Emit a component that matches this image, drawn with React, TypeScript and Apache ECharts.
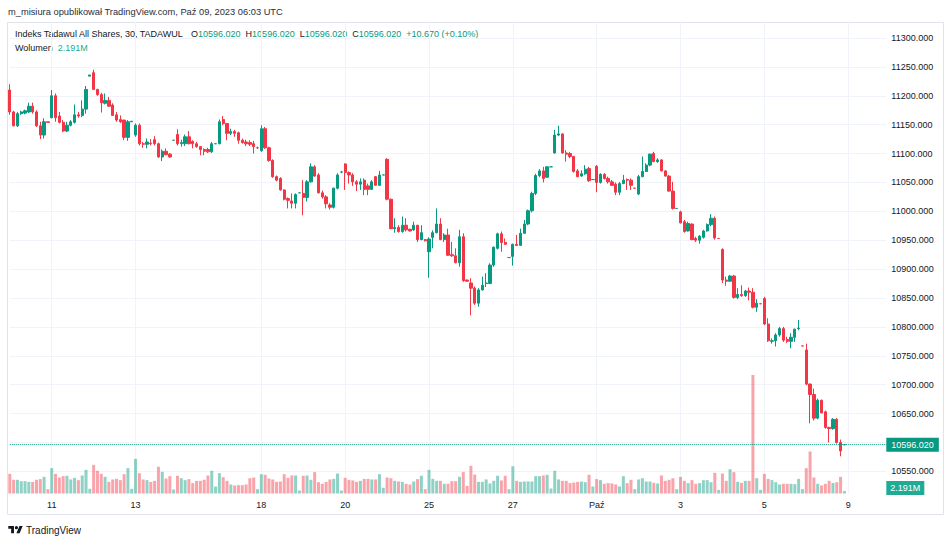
import React, { useEffect, useRef } from 'react';
import * as echarts from 'echarts';

// trading sessions on the chart, 11 half-hour bars per session (last one is the closing auction)
const days = ['10', '11', '12', '13', '14', '17', '18', '19', '20', '21', '25', '26', '27', '28', 'Paź', '2', '3', '4', '5', '8', '9'];
const sessionTimes = ['10:00', '10:30', '11:00', '11:30', '12:00', '12:30', '13:00', '13:30', '14:00', '14:30', '15:00'];
const tickDays = ['11', '13', '18', '20', '25', '27', 'Paź', '3', '5', '9'];

// [open, high, low, close]
const candles: number[][] = [
  // Sep 10
  [11210, 11220, 11167, 11172], [11172, 11174, 11147, 11148], [11148, 11172, 11146, 11169], [11169, 11174, 11167, 11172],
  [11170, 11176, 11168, 11174], [11172, 11188, 11170, 11182], [11182, 11188, 11169, 11172], [11172, 11175, 11146, 11148],
  [11148, 11155, 11125, 11132], [11132, 11161, 11126, 11155], [11155, 11155, 11154, 11154],
  // Sep 11
  [11162, 11210, 11161, 11200], [11200, 11204, 11155, 11162], [11165, 11172, 11152, 11154], [11154, 11158, 11137, 11139],
  [11139, 11155, 11137, 11149], [11149, 11158, 11147, 11155], [11154, 11185, 11152, 11167], [11167, 11172, 11162, 11165],
  [11166, 11192, 11163, 11177], [11177, 11217, 11169, 11211], [11234, 11236, 11234, 11236],
  // Sep 12
  [11240, 11245, 11210, 11211], [11211, 11212, 11200, 11202], [11202, 11205, 11171, 11188], [11187, 11204, 11185, 11192],
  [11192, 11198, 11181, 11182], [11184, 11187, 11165, 11166], [11167, 11172, 11155, 11158], [11159, 11166, 11153, 11155],
  [11158, 11158, 11123, 11128], [11128, 11158, 11122, 11155], [11155, 11156, 11155, 11156],
  // Sep 13
  [11132, 11152, 11129, 11149], [11149, 11152, 11114, 11117], [11117, 11120, 11110, 11116], [11116, 11126, 11109, 11120],
  [11118, 11125, 11114, 11117], [11124, 11130, 11114, 11117], [11117, 11119, 11093, 11094], [11094, 11107, 11087, 11104],
  [11104, 11109, 11097, 11098], [11099, 11101, 11093, 11094], [11123, 11123, 11123, 11123],
  // Sep 14
  [11133, 11142, 11114, 11117], [11117, 11124, 11112, 11119], [11117, 11133, 11113, 11129], [11129, 11139, 11116, 11117],
  [11121, 11123, 11109, 11117], [11117, 11120, 11110, 11112], [11112, 11113, 11097, 11107], [11107, 11109, 11097, 11104],
  [11107, 11110, 11101, 11103], [11103, 11120, 11101, 11117], [11117, 11117, 11117, 11117],
  // Sep 17
  [11117, 11159, 11116, 11155], [11159, 11165, 11149, 11152], [11152, 11153, 11123, 11135], [11135, 11143, 11132, 11138],
  [11138, 11141, 11129, 11135], [11136, 11138, 11117, 11123], [11123, 11126, 11117, 11119], [11120, 11124, 11113, 11117],
  [11119, 11123, 11113, 11116], [11117, 11122, 11100, 11112], [11110, 11112, 11108, 11110],
  // Sep 18
  [11105, 11149, 11103, 11143], [11143, 11146, 11108, 11110], [11110, 11112, 11086, 11088], [11088, 11090, 11058, 11060],
  [11060, 11062, 11052, 11054], [11057, 11059, 11036, 11037], [11037, 11038, 11019, 11021], [11022, 11024, 11005, 11019],
  [11018, 11031, 11005, 11014], [11014, 11031, 11005, 11029], [11032, 11032, 11032, 11032],
  // Sep 19
  [11031, 11054, 10993, 11024], [11024, 11054, 11017, 11051], [11051, 11083, 11050, 11077], [11077, 11080, 11060, 11061],
  [11063, 11066, 11031, 11032], [11032, 11036, 11022, 11025], [11025, 11028, 11005, 11013], [11011, 11014, 11003, 11007],
  [11007, 11041, 11005, 11040], [11040, 11066, 11038, 11063], [11068, 11070, 11066, 11068],
  // Sep 20
  [11082, 11083, 11037, 11067], [11067, 11069, 11048, 11063], [11063, 11066, 11044, 11051], [11051, 11054, 11035, 11047],
  [11047, 11057, 11037, 11051], [11054, 11057, 11028, 11038], [11044, 11048, 11028, 11038], [11038, 11054, 11037, 11051],
  [11060, 11061, 11044, 11045], [11045, 11070, 11044, 11063], [11063, 11063, 11063, 11063],
  // Sep 21
  [11090, 11092, 11019, 11021], [11021, 11022, 10969, 10970], [10970, 10988, 10963, 10972], [10972, 10976, 10963, 10965],
  [10965, 10991, 10963, 10976], [10976, 10988, 10965, 10968], [10969, 10970, 10965, 10966], [10968, 10982, 10966, 10976],
  [10976, 10976, 10947, 10951], [10951, 10976, 10950, 10963], [10951, 10952, 10948, 10949],
  // Sep 25
  [10930, 10955, 10885, 10952], [10955, 10967, 10936, 10963], [10963, 11005, 10962, 10978], [10978, 10988, 10950, 10951],
  [10951, 10962, 10947, 10959], [10959, 10970, 10923, 10924], [10925, 10947, 10921, 10923], [10923, 10936, 10910, 10911],
  [10911, 10968, 10904, 10956], [10956, 10962, 10878, 10880], [10881, 10882, 10879, 10879],
  // Sep 26
  [10876, 10884, 10820, 10867], [10867, 10870, 10838, 10841], [10841, 10867, 10835, 10864], [10864, 10887, 10863, 10872],
  [10875, 10893, 10869, 10876], [10875, 10910, 10874, 10907], [10907, 10939, 10904, 10938], [10936, 10963, 10934, 10961],
  [10961, 10965, 10930, 10946], [10946, 10953, 10942, 10943], [10920, 10920, 10920, 10920],
  // Sep 27
  [10922, 10944, 10906, 10943], [10943, 10959, 10940, 10941], [10941, 10970, 10940, 10962], [10962, 10985, 10961, 10978],
  [10978, 11003, 10976, 11001], [11001, 11034, 10998, 11031], [11031, 11065, 11028, 11062], [11062, 11073, 11059, 11070],
  [11070, 11077, 11050, 11057], [11059, 11078, 11058, 11077], [11077, 11077, 11077, 11077],
  // Sep 28
  [11101, 11141, 11100, 11132], [11132, 11148, 11130, 11134], [11134, 11135, 11100, 11101], [11101, 11106, 11086, 11099],
  [11100, 11103, 11092, 11095], [11095, 11096, 11067, 11069], [11070, 11073, 11059, 11060], [11061, 11071, 11060, 11065],
  [11065, 11080, 11063, 11073], [11074, 11077, 11051, 11053], [11055, 11055, 11055, 11055],
  // Oct 1
  [11078, 11080, 11033, 11050], [11050, 11066, 11048, 11064], [11064, 11066, 11055, 11057], [11057, 11060, 11048, 11051],
  [11051, 11054, 11044, 11045], [11047, 11050, 11028, 11033], [11033, 11051, 11028, 11048], [11048, 11063, 11047, 11054],
  [11055, 11057, 11037, 11054], [11054, 11057, 11037, 11045], [11040, 11040, 11040, 11040],
  // Oct 2
  [11030, 11063, 11028, 11060], [11060, 11095, 11059, 11069], [11069, 11083, 11068, 11080], [11080, 11100, 11078, 11099],
  [11100, 11103, 11085, 11086], [11086, 11092, 11084, 11089], [11089, 11090, 11069, 11070], [11070, 11071, 11060, 11061],
  [11061, 11063, 11034, 11035], [11035, 11051, 11003, 11005], [11005, 11005, 11005, 11005],
  // Oct 3
  [10999, 11001, 10979, 10980], [10982, 10985, 10963, 10965], [10966, 10982, 10965, 10979], [10978, 10979, 10950, 10951],
  [10953, 10956, 10947, 10950], [10950, 10959, 10944, 10957], [10955, 10968, 10953, 10966], [10966, 10979, 10965, 10977],
  [10977, 10995, 10974, 10988], [10988, 10991, 10951, 10954], [10953, 10953, 10953, 10953],
  // Oct 4
  [10934, 10936, 10876, 10881], [10881, 10887, 10871, 10879], [10879, 10890, 10878, 10888], [10888, 10890, 10849, 10851],
  [10851, 10867, 10848, 10856], [10856, 10872, 10852, 10854], [10854, 10864, 10852, 10862], [10862, 10868, 10846, 10860],
  [10860, 10867, 10832, 10834], [10834, 10848, 10826, 10841], [10840, 10840, 10840, 10840],
  // Oct 5
  [10849, 10852, 10803, 10805], [10805, 10815, 10774, 10776], [10775, 10780, 10771, 10776], [10776, 10789, 10766, 10786],
  [10786, 10800, 10783, 10797], [10797, 10800, 10774, 10777], [10778, 10783, 10772, 10775], [10775, 10789, 10763, 10782],
  [10782, 10797, 10774, 10796], [10797, 10812, 10794, 10798], [10767, 10767, 10767, 10767],
  // Oct 8
  [10760, 10771, 10699, 10701], [10701, 10702, 10633, 10683], [10683, 10693, 10638, 10642], [10642, 10676, 10640, 10673],
  [10673, 10674, 10651, 10651], [10653, 10655, 10624, 10626], [10626, 10627, 10600, 10624], [10624, 10642, 10622, 10640],
  [10640, 10642, 10598, 10600], [10600, 10605, 10576, 10585.35], [10596.02, 10596.02, 10596.02, 10596.02],
];

// volume per bar, millions of shares
const volumes: number[] = [
  17.2, 12.0, 12.0, 10.8, 10.8, 10.2, 10.2, 12.0, 12.6, 14.6, 3.8,
  22.2, 17.2, 14.0, 15.2, 15.5, 12.3, 13.7, 11.7, 15.8, 20.7, 4.1,
  25.1, 19.9, 17.2, 14.6, 10.2, 12.3, 12.8, 11.7, 16.9, 22.2, 4.1,
  30.4, 17.8, 12.3, 11.7, 10.2, 11.1, 23.4, 19.0, 13.1, 15.2, 3.5,
  15.5, 13.4, 11.7, 12.6, 9.1, 11.1, 11.1, 12.0, 15.8, 19.9, 6.1,
  17.8, 14.3, 11.1, 7.9, 7.0, 7.3, 7.3, 7.9, 13.4, 14.0, 3.8,
  16.9, 16.4, 13.1, 12.3, 10.2, 10.5, 16.9, 13.7, 15.8, 15.8, 2.6,
  15.5, 15.8, 12.0, 18.7, 9.9, 8.5, 10.2, 12.3, 12.8, 17.5, 2.6,
  13.7, 12.0, 11.4, 10.2, 11.1, 12.8, 12.8, 12.3, 12.3, 16.9, 5.0,
  14.0, 13.4, 11.1, 10.5, 10.2, 8.5, 7.9, 10.5, 12.6, 15.5, 3.8,
  20.7, 12.8, 11.1, 11.1, 8.5, 8.5, 10.8, 10.8, 14.6, 18.7, 6.7,
  24.2, 16.6, 10.2, 10.2, 12.3, 8.8, 11.1, 15.5, 11.4, 15.5, 3.8,
  23.9, 11.1, 10.2, 10.5, 10.5, 10.5, 15.2, 15.2, 15.8, 16.4, 4.4,
  19.9, 12.3, 11.1, 11.1, 9.1, 9.6, 10.2, 10.5, 9.9, 16.4, 6.1,
  12.6, 11.7, 8.5, 9.1, 8.8, 7.9, 6.1, 15.2, 9.1, 12.0, 3.8,
  12.3, 13.4, 10.5, 10.5, 9.3, 8.8, 15.8, 11.1, 12.0, 13.4, 3.8,
  14.6, 11.1, 9.1, 11.7, 8.5, 9.1, 11.7, 11.7, 9.9, 18.1, 3.2,
  17.5, 11.1, 21.3, 18.7, 10.2, 9.3, 11.1, 11.1, 103.8, 13.4, 3.2,
  17.2, 12.8, 11.7, 9.9, 7.9, 8.5, 8.5, 8.5, 8.2, 12.8, 3.8,
  22.2, 36.8, 14.0, 8.5, 7.0, 8.5, 11.1, 9.3, 9.9, 14.6, 2.191,
];

const UP = '#089981';
const DOWN = '#f23645';
const VOL_UP = 'rgba(8,153,129,0.45)';
const VOL_DOWN = 'rgba(242,54,69,0.45)';
const VOL_LABEL = '#22ab94';
const TEXT = '#131722';
const GRID = '#f0f3fa';
const FONT = '"Liberation Sans", Arial, sans-serif';

const LOGO_PATH =
  'M14 22H7V11H0V4h14v18z M28 22h-8l7.5-18h8L28 22z M16 8a4 4 0 1 0 8 0a4 4 0 1 0 -8 0z';

const App: React.FC = () => {
  const chartRef = useRef<HTMLDivElement | null>(null);

  useEffect(() => {
    if (!chartRef.current) return;
    echarts.graphic.registerShape('tvlogo', echarts.graphic.extendPath(LOGO_PATH, {}));
    const chart = echarts.init(chartRef.current, null, { renderer: 'svg' });

    const categories = days.flatMap((d) => sessionTimes.map((t) => `${d} ${t}`));
    const isTick = (_i: number, v: string) => {
      const [d, t] = v.split(' ');
      return t === '10:00' && tickDays.includes(d);
    };

    const last = candles[candles.length - 1];
    const prevClose = candles[candles.length - 2][3];
    const chg = last[3] - prevClose;
    const pct = (chg / prevClose) * 100;
    const sign = chg >= 0 ? '+' : '-';
    const f3 = (v: number) => v.toFixed(3);
    const lastVol = volumes[volumes.length - 1];

    const gridLeft = 9.8;
    const gridRight = 61.7;

    const option = {
      animation: false,
      backgroundColor: '#ffffff',
      textStyle: { fontFamily: FONT },
      grid: [
        { left: gridLeft, right: gridRight, top: 38, bottom: 43.8 },
        { left: gridLeft, right: gridRight, top: 22, bottom: 50.5 },
      ],
      xAxis: [
        { type: 'category', gridIndex: 0, data: categories, boundaryGap: false, show: false },
        {
          type: 'category',
          gridIndex: 1,
          data: categories,
          boundaryGap: false,
          axisLine: { show: false },
          axisTick: { show: false },
          axisLabel: {
            interval: isTick,
            formatter: (v: string) => v.split(' ')[0],
            color: TEXT,
            fontSize: 9,
            fontFamily: FONT,
            margin: 7,
          },
          splitLine: { show: true, interval: isTick, lineStyle: { color: GRID, width: 1 } },
        },
      ],
      yAxis: [
        {
          type: 'value',
          gridIndex: 0,
          position: 'right',
          min: 10500,
          max: 11300,
          interval: 50,
          axisLine: { show: false },
          axisTick: { show: false },
          axisLabel: {
            color: TEXT,
            fontSize: 9,
            fontFamily: FONT,
            margin: 5,
            showMinLabel: false,
            formatter: (v: number) => (v === 10600 ? '' : f3(v)),
          },
          splitLine: { show: true, showMinLine: false, lineStyle: { color: GRID, width: 1 } },
        },
        { type: 'value', gridIndex: 1, min: 0, max: 413, show: false },
      ],
      series: [
        {
          type: 'bar',
          name: 'Wolumen',
          xAxisIndex: 1,
          yAxisIndex: 1,
          barWidth: 3,
          clip: false,
          data: volumes.map((v, i) => ({
            value: v,
            itemStyle: { color: candles[i][3] >= candles[i][0] ? VOL_UP : VOL_DOWN },
          })),
          markLine: {
            silent: true,
            symbol: ['none', 'none'],
            lineStyle: { color: 'rgba(0,0,0,0)', width: 1, type: 'solid' },
            label: {
              show: true,
              position: 'end',
              formatter: `${lastVol.toFixed(3)}M`,
              backgroundColor: VOL_LABEL,
              color: '#ffffff',
              fontSize: 9,
              fontFamily: FONT,
              padding: [3, 4, 2, 4],
              distance: 0,
              offset: [0, -3],
            },
            data: [{ yAxis: lastVol }],
          },
        },
        {
          type: 'candlestick',
          name: 'TASI',
          xAxisIndex: 0,
          yAxisIndex: 0,
          barWidth: 2.8,
          clip: false,
          itemStyle: { color: UP, color0: DOWN, borderColor: UP, borderColor0: DOWN, borderWidth: 1 },
          data: candles.map(([o, h, l, c]) => [o, c, l, h]),
          markLine: {
            silent: true,
            symbol: ['none', 'none'],
            lineStyle: { type: 'dotted', color: UP, width: 1 },
            label: {
              position: 'end',
              formatter: f3(last[3]),
              backgroundColor: UP,
              color: '#ffffff',
              fontSize: 9,
              fontFamily: FONT,
              padding: [3, 5, 2, 5],
              distance: 0,
            },
            data: [{ yAxis: last[3] }],
          },
        },
      ],
      graphic: [
        {
          type: 'rect',
          silent: true,
          z: -10,
          shape: { x: 7.5, y: 22.5, width: 936, height: 492 },
          style: { fill: 'none', stroke: '#e0e3eb', lineWidth: 1 },
        },
        {
          type: 'text',
          x: 8,
          y: 12,
          style: {
            text: 'm_misiura opublikował TradingView.com, Paź 09, 2023 06:03 UTC',
            fill: '#2a2e39',
            font: `9.3px ${FONT}`,
            verticalAlign: 'middle',
          },
        },
        {
          type: 'text',
          x: 15,
          y: 34,
          style: {
            text:
              `{n|Indeks Tadawul All Shares, 30, TADAWUL}   ` +
              `{n|O}{v|${f3(last[0])}}  {n|H}{v|${f3(last[1])}}  {n|L}{v|${f3(last[2])}}  {n|C}{v|${f3(last[3])}}  ` +
              `{v|${sign}${f3(Math.abs(chg))} (${sign}${Math.abs(pct).toFixed(2)}%)}`,
            verticalAlign: 'middle',
            font: `9px ${FONT}`,
            rich: {
              n: { fill: TEXT, fontSize: 9, fontFamily: FONT },
              v: { fill: UP, fontSize: 9, fontFamily: FONT },
            },
          },
        },
        {
          type: 'text',
          x: 15,
          y: 48,
          style: {
            text: `{n|Wolumen}  {v|${lastVol.toFixed(3)}M}`,
            verticalAlign: 'middle',
            font: `9px ${FONT}`,
            rich: {
              n: { fill: TEXT, fontSize: 9, fontFamily: FONT },
              v: { fill: VOL_LABEL, fontSize: 9, fontFamily: FONT },
            },
          },
        },
        {
          type: 'tvlogo',
          x: 8.3,
          y: 524.4,
          scaleX: 0.405,
          scaleY: 0.405,
          style: { fill: TEXT },
        },
        {
          type: 'text',
          x: 26,
          y: 530,
          style: { text: 'TradingView', fill: TEXT, font: `10px ${FONT}`, verticalAlign: 'middle' },
        },
      ],
    };

    chart.setOption(option as any);

    return () => {
      chart.dispose();
    };
  }, []);

  return (
    <div
      ref={chartRef}
      style={{ position: 'absolute', left: 0, top: 0, width: 948, height: 544, background: '#ffffff' }}
    />
  );
};

export default App;
